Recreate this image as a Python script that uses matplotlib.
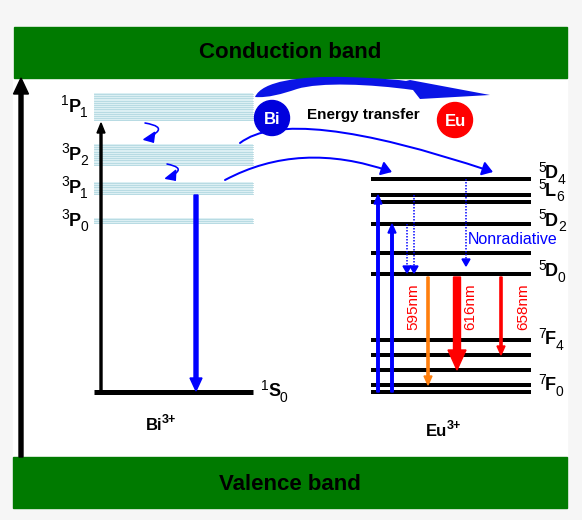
import numpy as np
import matplotlib
matplotlib.use("Agg")
import matplotlib.pyplot as plt
from matplotlib.patches import Rectangle, Circle, PathPatch, FancyArrowPatch, Polygon
from matplotlib.path import Path

plt.rcParams['font.family'] = ['Liberation Sans', 'DejaVu Sans']

# energy scale in drawing units (down = lower energy)
bi_band_names = [('1', 'P', '1'), ('3', 'P', '2'), ('3', 'P', '1'), ('3', 'P', '0')]
bi_band_top = [93, 144, 182, 218]
bi_band_bottom = [121, 166, 195, 224]
bi_ground = 392

eu_levels = [179, 195, 202, 224, 253, 274, 340, 355, 370, 385, 392]
eu_label_names = [('5', 'D', '4'), ('5', 'L', '6'), ('5', 'D', '2'), ('5', 'D', '0'), ('7', 'F', '4'), ('7', 'F', '0')]
eu_label_y = [174, 191, 221, 272, 340, 386]

emission_nm = ['595nm', '616nm', '658nm']
emission_from = [274, 274, 274]
emission_to = [385, 370, 355]
emission_x = [428, 457, 501]
emission_colors = ['#ff7f0e', '#ff0000', '#ff0000']

BLUE = '#0000ff'
GREEN = '#007a00'
PX = 0.72  # points per pixel
BOLD_EM = {'P': 0.667, 'D': 0.722, 'L': 0.611, 'F': 0.611, 'S': 0.667}

fig = plt.figure(figsize=(5.82, 5.20), dpi=100, facecolor='#f6f6f6')
ax = fig.add_axes([0, 0, 1, 1])
ax.set_xlim(0, 582)
ax.set_ylim(520, 0)
ax.axis('off')

ax.add_patch(Rectangle((13, 27), 554, 481, color='white', zorder=0))

# bands
ax.add_patch(Rectangle((14, 27), 553, 51, color=GREEN, zorder=1))
ax.add_patch(Rectangle((13, 457), 554, 51, color=GREEN, zorder=1))
ax.text(290, 52, 'Conduction band', ha='center', va='center', fontsize=16, fontweight='bold')
ax.text(290, 484, 'Valence band', ha='center', va='center', fontsize=16, fontweight='bold')

# energy axis
ax.arrow(21, 457, 0, -379, width=4, head_width=15, head_length=16,
         length_includes_head=True, color='black', zorder=3)


def term(x, y, mult, letter, j, right=False):
    # 2S+1 L J term symbol built from three texts
    big, small = 13, 10
    w_sup = 0.556 * small / PX - 0.5
    w_let = BOLD_EM[letter] * big / PX - 0.3
    w_sub = 0.556 * small / PX
    if right:
        x = x - (w_sup + w_let + w_sub)
    ax.text(x, y - 6, mult, ha='left', va='center', fontsize=small, zorder=5)
    ax.text(x + w_sup, y, letter, ha='left', va='center', fontsize=big, fontweight='bold', zorder=5)
    ax.text(x + w_sup + w_let, y + 6, j, ha='left', va='center', fontsize=small, zorder=5)


def ion(x, y, name, charge):
    ax.text(x, y, name, ha='left', va='center', fontsize=12, fontweight='bold', zorder=5)
    w = sum({'B': 0.722, 'i': 0.278, 'E': 0.667, 'u': 0.611}[ch] for ch in name) * 12 / PX
    ax.text(x + w - 1, y - 6, charge, ha='left', va='center', fontsize=9, fontweight='bold', zorder=5)


# Bi3+ excited states drawn as hatched bands
for (m, l, j), top, bot in zip(bi_band_names, bi_band_top, bi_band_bottom):
    ax.add_patch(Rectangle((94, top), 159, bot - top, color='#dceff3', lw=0, zorder=2))
    for yy in np.arange(top + 1, bot, 2.2):
        ax.plot([94, 253], [yy, yy], color='#afd6df', lw=0.8 * PX, zorder=2)
    term(88, (top + bot) / 2, m, l, j, right=True)

ax.plot([94, 253], [bi_ground, bi_ground], color='black', lw=5 * PX, solid_capstyle='butt', zorder=3)
term(261, bi_ground, '1', 'S', '0')
ion(146, 426, 'Bi', '3+')

# excitation and emission of Bi3+
ax.arrow(101, bi_ground - 2, 0, -(bi_ground - 2 - bi_band_bottom[0] - 2), width=2, head_width=8,
         head_length=10, length_includes_head=True, color='black', zorder=4)
ax.arrow(196, bi_band_bottom[2], 0, bi_ground - bi_band_bottom[2] - 1, width=4, head_width=12,
         head_length=13, length_includes_head=True, color=BLUE, zorder=4)

# relaxation squiggles
for pts in ([(145, 123), (163, 126), (157, 132), (150, 137), (154, 143)],
            [(167, 164), (182, 167), (177, 172), (172, 176), (176, 181)]):
    p = Path(pts, [Path.MOVETO, Path.CURVE3, Path.CURVE3, Path.CURVE3, Path.CURVE3])
    ax.add_patch(FancyArrowPatch(path=p, arrowstyle='-|>,head_length=0.4,head_width=0.35',
                                 mutation_scale=13, color=BLUE, lw=1.6 * PX, zorder=4))

# Eu3+ levels
for y in eu_levels:
    ax.plot([371, 531], [y, y], color='black', lw=4 * PX, solid_capstyle='butt', zorder=3)
for (m, l, j), y in zip(eu_label_names, eu_label_y):
    term(538, y, m, l, j)
ion(426, 432, 'Eu', '3+')

# Eu3+ excitation
for x, y in [(378, eu_levels[1]), (392, eu_levels[3])]:
    ax.arrow(x, 392, 0, y - 392, width=2.5, head_width=8, head_length=9,
             length_includes_head=True, color=BLUE, zorder=4)

# nonradiative relaxation to 5D0
for x, y0, y1 in [(414, eu_levels[1], 274), (407, eu_levels[3], 274), (466, eu_levels[0], 267)]:
    ax.plot([x, x], [y0, y1 - 6], color=BLUE, lw=1.5 * PX, ls=(0, (1, 1)), zorder=4)
    ax.add_patch(Polygon([(x - 4, y1 - 8), (x + 4, y1 - 8), (x, y1 - 1)], color=BLUE, zorder=4))
ax.text(468, 239, 'Nonradiative', ha='left', va='center', fontsize=11.5, color=BLUE, zorder=5)

# 5D0 -> 7FJ emission
label_dx = {'595nm': -15, '616nm': 13, '658nm': 22}
for x, y0, y1, c, lab in zip(emission_x, emission_from, emission_to, emission_colors, emission_nm):
    thick = lab == '616nm'
    ax.arrow(x, y0 + 3, 0, y1 - y0 - 3, width=7 if thick else 2.2,
             head_width=18 if thick else 8, head_length=20 if thick else 9,
             length_includes_head=True, color=c, zorder=4)
    ax.text(x + label_dx[lab], 307, lab, rotation=90,
            ha='center', va='center', fontsize=11, color='#ff0000', zorder=5)

# energy transfer Bi -> Eu
ax.add_patch(Circle((272, 118), 17.5, color='#0000dd', zorder=6))
ax.add_patch(Circle((455, 120), 17.5, color='#ff0000', zorder=6))
ax.text(272, 119, 'Bi', ha='center', va='center', color='white', fontsize=12, fontweight='bold', zorder=7)
ax.text(455, 121, 'Eu', ha='center', va='center', color='white', fontsize=12, fontweight='bold', zorder=7)
ax.text(363, 115, 'Energy transfer', ha='center', va='center', fontsize=11, fontweight='bold', zorder=7)

crescent = Path(
    [(255, 97), (262, 81), (300, 76), (345, 77),
     (380, 78), (400, 80), (406, 81),
     (410, 80), (490, 95), (420, 99), (413, 90),
     (370, 84), (320, 82), (297, 89),
     (282, 94), (268, 98), (255, 97), (255, 97)],
    [Path.MOVETO, Path.CURVE4, Path.CURVE4, Path.CURVE4,
     Path.CURVE4, Path.CURVE4, Path.CURVE4,
     Path.LINETO, Path.LINETO, Path.LINETO, Path.LINETO,
     Path.CURVE4, Path.CURVE4, Path.CURVE4,
     Path.CURVE4, Path.CURVE4, Path.CURVE4, Path.CLOSEPOLY])
ax.add_patch(PathPatch(crescent, color='#0a14e6', lw=0, zorder=5))

for p0, c, p1 in [((240, 143), (290, 104), (493, 172)), ((225, 180), (300, 140), (392, 172))]:
    p = Path([p0, c, p1], [Path.MOVETO, Path.CURVE3, Path.CURVE3])
    ax.add_patch(FancyArrowPatch(path=p, arrowstyle='-|>,head_length=0.45,head_width=0.3',
                                 mutation_scale=14, color=BLUE, lw=2 * PX, zorder=5))

fig.savefig('out.png', dpi=100, facecolor=fig.get_facecolor())
